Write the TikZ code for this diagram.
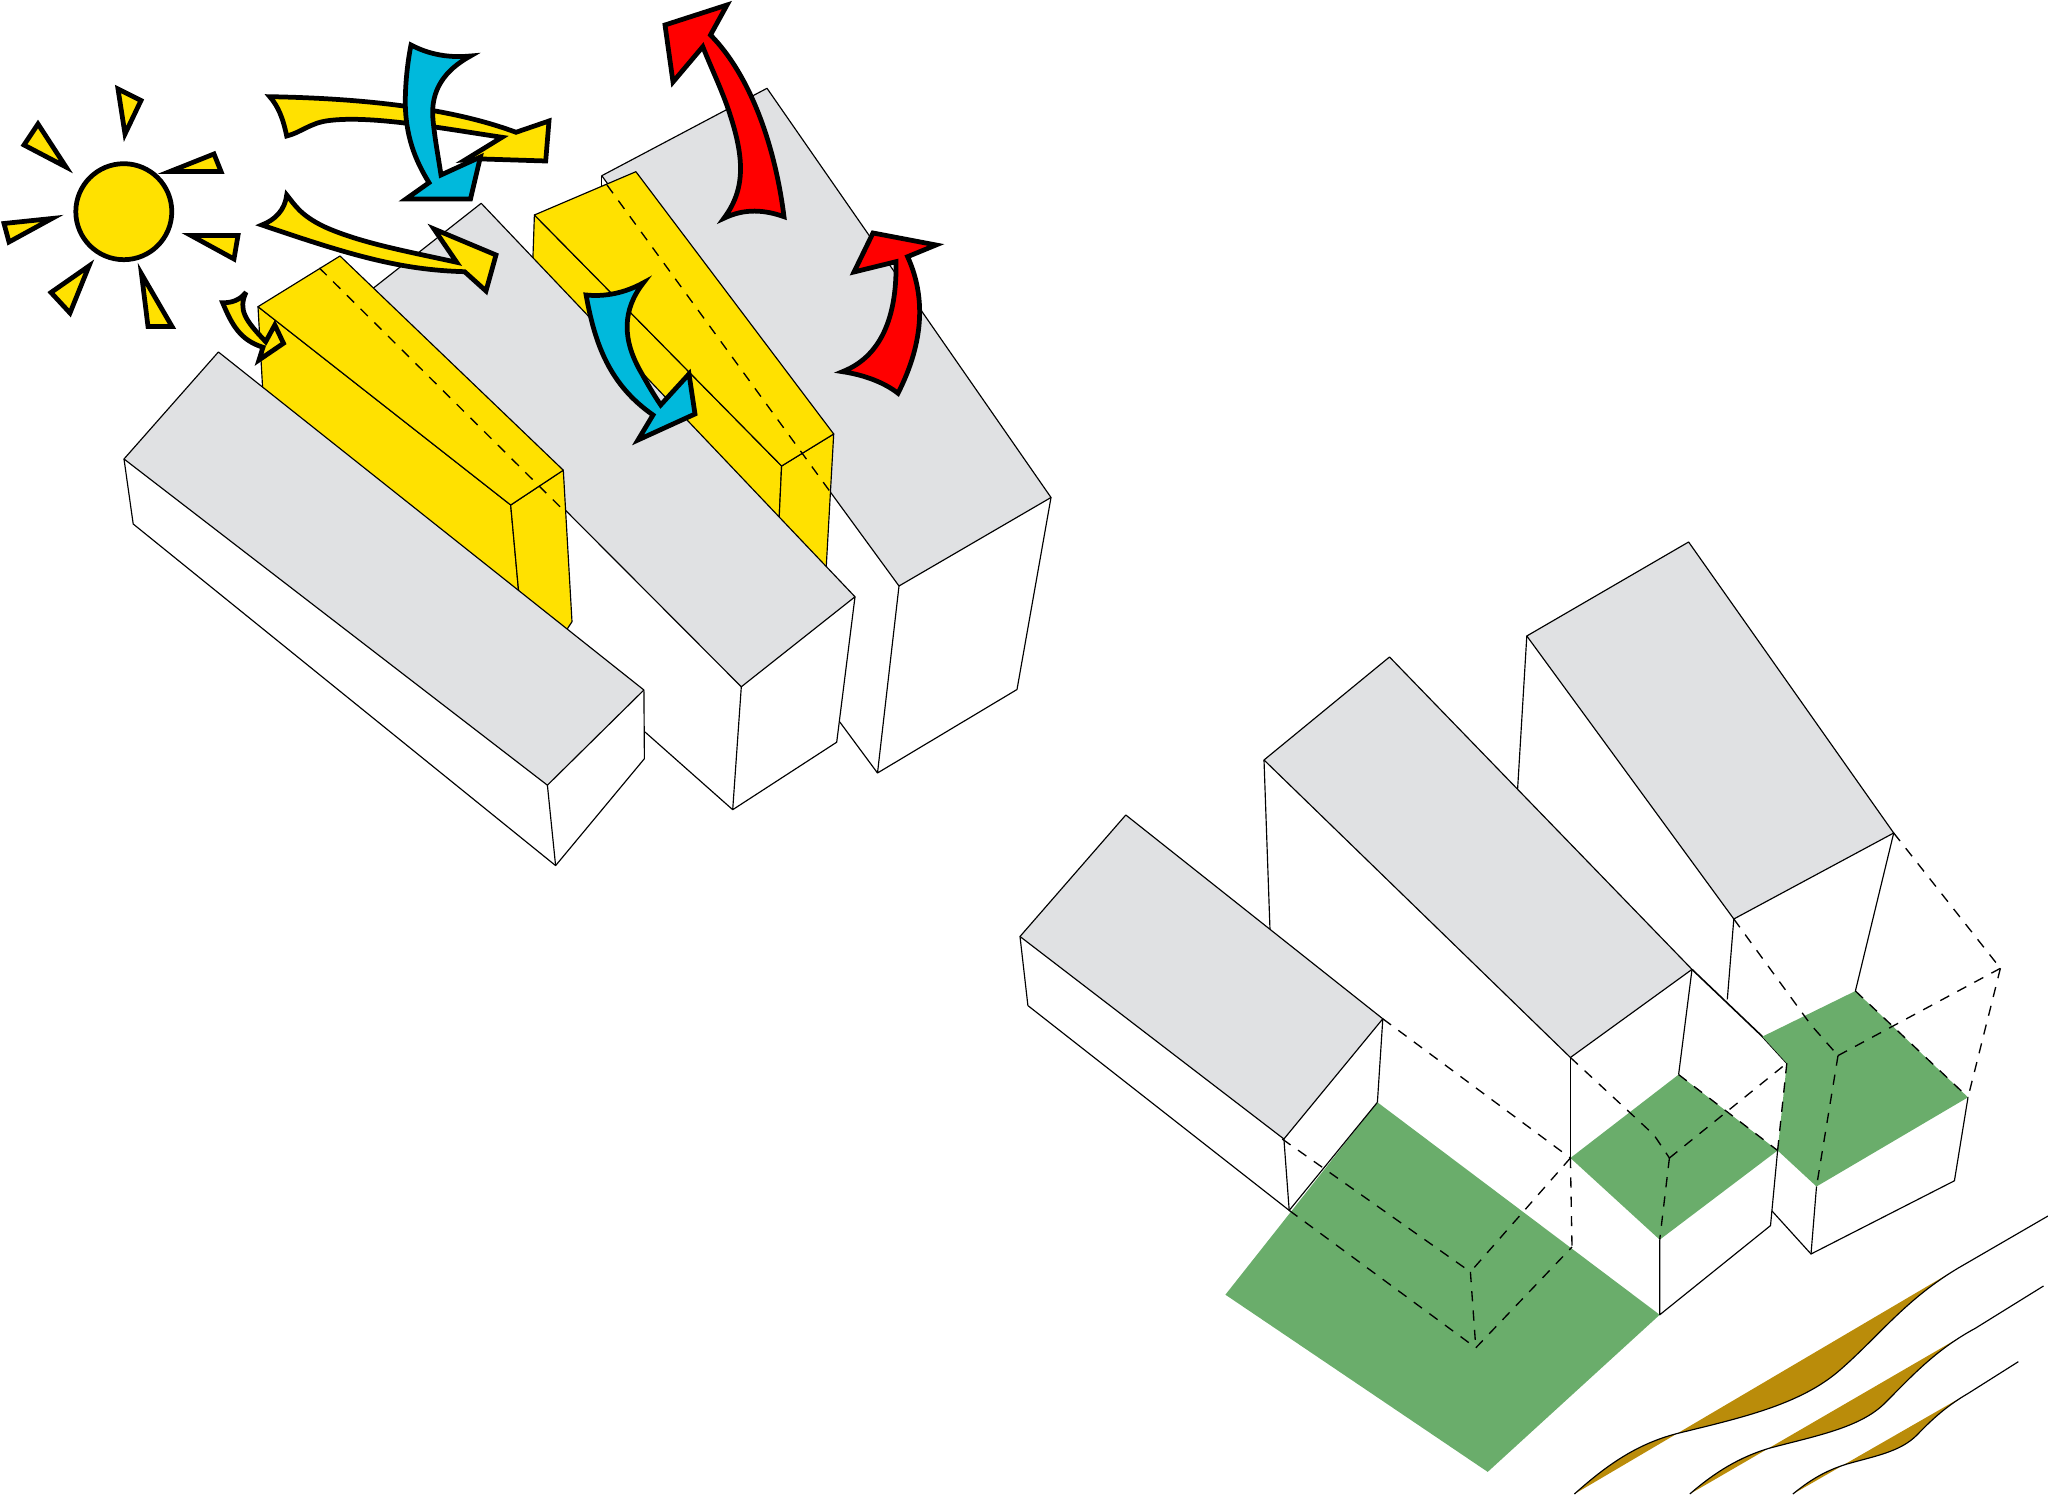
\documentclass[tikz,border=0pt]{standalone}
\definecolor{sunY}{HTML}{FFE100}
\definecolor{roofG}{HTML}{E0E1E3}
\definecolor{coolB}{HTML}{00B9DC}
\definecolor{hotR}{HTML}{FF0000}
\definecolor{lawnG}{HTML}{6AAD6B}
\definecolor{soilB}{HTML}{BA8C0A}
\tikzset{
  thinln/.style={draw=black,line width=0.33pt,line join=round},
  roof/.style={thinln,fill=roofG},
  solar/.style={thinln,fill=sunY},
  hidden/.style={draw=black,line width=0.38pt,dash pattern=on 2.9pt off 2.6pt},
  lawn/.style={fill=lawnG},
  flow/.style={draw=black,line width=1.35pt,line join=miter,miter limit=6}
}
\begin{document}
\begin{tikzpicture}[x=0.01cm,y=-0.01cm]
\useasboundingbox (0,0) rectangle (2048,1495);
% ---------- LEFT GROUP ----------
% building C
\draw[thinln] (839.8,722) -- (877.5,773);
\draw[thinln] (899,586) -- (877.5,773) -- (1017,689.5) -- (1051,497.5);
\path[roof] (767,88.3) -- (1051,497.5) -- (899,586) -- (829.6,491) -- (601.8,175.7) -- cycle;
% yellow B
\path[solar] (534.4,215) -- (781.6,466) -- (778.6,530) -- (532.5,270) -- cycle;
\path[solar] (781.6,466) -- (833.7,434) -- (825.5,580) -- (778.6,530) -- cycle;
\path[solar] (534.4,215) -- (635.9,171.7) -- (833.7,434) -- (781.6,466) -- cycle;
\draw[thinln] (601.8,175.7) -- (601.8,186);
\draw[hidden] (607,185) -- (829.6,491);
% building B
\fill[white] (565.8,511) -- (741.3,686.8) -- (855,596.8) -- (836.7,742.2) -- (732.7,809.7) -- (600,690) -- cycle;
\draw[thinln] (741.3,686.8) -- (732.7,809.7) -- (836.7,742.2) -- (855,596.8);
\draw[thinln] (645,732) -- (732.7,809.7);
\path[roof] (481.2,203.3) -- (855,596.8) -- (741.3,686.8) -- (357,301) -- cycle;
% yellow A
\path[solar] (258,306.7) -- (510.7,505) -- (519.4,600) -- (263.3,400) -- cycle;
\path[solar] (510.7,505) -- (563.3,470.2) -- (572,621.7) -- (560,640) -- (519.4,600) -- cycle;
\path[solar] (258,306.7) -- (340,256) -- (563.3,470.2) -- (510.7,505) -- cycle;
\draw[hidden] (319.4,268) -- (564.3,511);
% building A
\fill[white] (124,459) -- (547.4,785.2) -- (643.9,690) -- (644.4,758.7) -- (555.6,865.6) -- (133.2,524) -- cycle;
\draw[thinln] (124,459) -- (133.2,524) -- (555.6,865.6) -- (644.4,758.7) -- (643.9,690);
\draw[thinln] (547.4,785.2) -- (555.6,865.6);
\path[roof] (218.4,352) -- (643.9,690) -- (547.4,785.2) -- (124,459) -- cycle;
% sun
\filldraw[flow,fill=sunY] (123.8,211.7) circle [radius=48];
\filldraw[flow,fill=sunY] (118,89) -- (141,100.5) -- (125,134) -- cycle;
\filldraw[flow,fill=sunY] (38,124) -- (66,167) -- (24,145) -- cycle;
\filldraw[flow,fill=sunY] (214,154) -- (221,171.5) -- (170,171.5) -- cycle;
\filldraw[flow,fill=sunY] (4,223.5) -- (52,218.5) -- (9,242) -- cycle;
\filldraw[flow,fill=sunY] (191,235.5) -- (238,235.5) -- (234,259) -- cycle;
\filldraw[flow,fill=sunY] (89,266) -- (70,313) -- (51,292.5) -- cycle;
\filldraw[flow,fill=sunY] (141.5,274) -- (172,326.5) -- (148,326.5) -- cycle;
% yellow arrow 1
\filldraw[flow,fill=sunY]
  (269.7,96.7) .. controls (340,98) and (440,104) .. (516,132.3)
  -- (549,121) -- (545.7,161) -- (482.4,159) -- (465,160) -- (502,137.3)
  .. controls (440,128) and (370,115) .. (328,120.7)
  .. controls (310,123) and (300,133) .. (286.7,136)
  .. controls (283,118) and (278,106) .. (269.7,96.7) -- cycle;
% blue arrow 1
\filldraw[flow,fill=coolB]
  (411,45) .. controls (430,55) and (450,58) .. (470.5,56)
  .. controls (445,70) and (430,90) .. (433,120)
  .. controls (435,140) and (438,155) .. (441,175)
  -- (480.4,157) -- (470.5,199) -- (406,199) -- (429,182.7)
  .. controls (415,160) and (405,135) .. (405.3,100)
  .. controls (405.5,80) and (408,60) .. (411,45) -- cycle;
% yellow arrow 2
\filldraw[flow,fill=sunY]
  (286.7,195) .. controls (295,205) and (300,215) .. (324.2,226.7)
  .. controls (360,243) and (410,252) .. (456.7,262.3)
  -- (434,229) -- (496,255) -- (486,291) -- (464.6,271.7)
  .. controls (400,270) and (350,255) .. (261.8,225)
  .. controls (275,220) and (285,210) .. (286.7,195) -- cycle;
% small yellow arrow
\filldraw[flow,fill=sunY]
  (246,292.3) .. controls (238,310) and (245,320) .. (265.7,341.7)
  -- (274.8,325) -- (283.5,343.3) -- (259,360) -- (263,347.3)
  .. controls (240,340) and (232,325) .. (222.6,302.7)
  .. controls (232,303) and (240,300) .. (246,292.3) -- cycle;
% red arrow 1
\filldraw[flow,fill=hotR]
  (727,5) -- (710.5,35)
  .. controls (750,75) and (775,145) .. (784,216.7)
  .. controls (765,210) and (745,208) .. (723.9,218.3)
  .. controls (745,190) and (745,160) .. (729.6,113.3)
  .. controls (722,90) and (712,70) .. (702.8,46.7)
  -- (673,82) -- (665,25) -- cycle;
% red arrow 2
\filldraw[flow,fill=hotR]
  (936,245) -- (907.6,256.7)
  .. controls (925,295) and (925,340) .. (898,393.3)
  .. controls (885,383) and (865,375) .. (842.5,371.7)
  .. controls (885,355) and (897,310) .. (896,261.7)
  -- (854,272) -- (873,233) -- cycle;
% blue arrow 2
\filldraw[flow,fill=coolB]
  (586.1,295) .. controls (605,297) and (625,293) .. (643.5,282.7)
  .. controls (622,310) and (622,340) .. (641.6,373.3)
  .. controls (648,385) and (654,395) .. (660.7,405)
  -- (689,374) -- (695,414) -- (638,440) -- (653,415)
  .. controls (610,385) and (595,345) .. (586.1,295) -- cycle;
% ---------- RIGHT GROUP ----------
% building F
\path[roof] (1688.6,542) -- (1893.7,833) -- (1733.8,919) -- (1526.8,636) -- cycle;
\draw[thinln] (1526.8,636) -- (1517.6,789);
\draw[thinln] (1733.8,919) -- (1727.3,999.4);
\draw[thinln] (1893.7,833) -- (1855.4,991);
% building E
\fill[white] (1264,760) -- (1570.4,1057.5) -- (1692,969.4) -- (1678.6,1074.6) -- (1570.4,1158) -- (1659.7,1314.8) -- (1377.4,1102.3) -- (1382.8,1018.8) -- (1270,930) -- cycle;
\path[roof] (1389.5,657) -- (1692,969.4) -- (1570.4,1057.5) -- (1264,760) -- cycle;
\draw[thinln] (1264,760) -- (1270,930);
\draw[thinln] (1570.4,1057.5) -- (1570.4,1158);
\draw[thinln] (1692,969.4) -- (1678.6,1074.6);
\draw[thinln,line width=0.45pt] (1692,969.4) -- (1762.4,1036.6) -- (1786.8,1063.2);
% building D
\fill[white] (1020,936.5) -- (1283.9,1139) -- (1382.8,1018.8) -- (1377.4,1102.3) -- (1289.2,1210.4) -- (1027.9,1005.6) -- cycle;
\draw[thinln] (1020,936.5) -- (1027.9,1005.6) -- (1289.2,1210.4);
\draw[thinln] (1377.4,1102.3) -- (1382.8,1018.8);
\draw[thinln] (1283.9,1139) -- (1289.2,1210.4);
\path[roof] (1125.8,815) -- (1382.8,1018.8) -- (1283.9,1139) -- (1020,936.5) -- cycle;
% lawns
\fill[lawn] (1377.4,1102.3) -- (1225.4,1294.7) -- (1487.7,1471.9) -- (1659.7,1314.8) -- cycle;
\fill[lawn] (1678.6,1074.6) -- (1777.6,1150.5) -- (1659.7,1239.7) -- (1570.4,1158) -- cycle;
\fill[lawn] (1855.4,991) -- (1968,1097.3) -- (1816.5,1186.5) -- (1777.6,1150.5) -- (1786.8,1063.2) -- (1762.4,1036.6) -- cycle;
% lower walls
\draw[thinln] (1659.7,1239.7) -- (1659.7,1314.8) -- (1770.5,1225.6) -- (1777.6,1150.5);
\draw[thinln] (1816.5,1186.5) -- (1811,1254) -- (1954.4,1180.8) -- (1968,1097.3);
\draw[thinln] (1772,1211) -- (1811,1254);
\draw[thinln] (1377.4,1102.3) -- (1289.2,1210.4);
% hidden edges
\draw[hidden] (1786.8,1063.2) -- (1777.6,1150.5);
\draw[hidden] (1382.8,1018.8) -- (1570.4,1158);
\draw[hidden] (1570.4,1158) -- (1470.4,1271.9);
\draw[hidden] (1282.2,1139) -- (1470.4,1271.9);
\draw[hidden] (1470.4,1271.9) -- (1475.8,1347.8);
\draw[hidden] (1289.2,1210.4) -- (1475.8,1347.8);
\draw[hidden] (1475.8,1347.8) -- (1572,1247);
\draw[hidden] (1570.4,1158) -- (1572,1247);
\draw[hidden] (1570.4,1057.5) -- (1654,1135) -- (1669.4,1158);
\draw[hidden] (1669.4,1158) -- (1659.7,1239.7);
\draw[hidden] (1669.4,1158) -- (1786.8,1063.2);
\draw[hidden] (1678.6,1074.6) -- (1777.6,1150.5);
\draw[hidden] (1733.8,919) -- (1811,1025) -- (1838,1055.6);
\draw[hidden] (1838,1055.6) -- (1816.5,1186.5);
\draw[hidden] (1838,1055.6) -- (2000.4,968.3);
\draw[hidden] (2000.4,968.3) -- (1968,1097.3);
\draw[hidden] (1893.7,833) -- (2000.4,968.3);
\draw[hidden] (1855.4,991) -- (1968,1097.3);
% soil strips
\fill[soilB] (1957.8,1268.3) -- (1574.4,1494) .. controls (1610,1462) and (1640,1443) .. (1678,1433.3)
  .. controls (1740,1418) and (1800,1405) .. (1840,1370)
  .. controls (1880,1335) and (1905,1300) .. (1957.8,1268.3) -- cycle;
\draw[thinln] (1574.4,1494) .. controls (1610,1462) and (1640,1443) .. (1678,1433.3)
  .. controls (1740,1418) and (1800,1405) .. (1840,1370)
  .. controls (1880,1335) and (1905,1300) .. (1957.8,1268.3) -- (2048,1216);
\fill[soilB] (1975.3,1328.3) -- (1689.8,1494) .. controls (1715,1472) and (1740,1457) .. (1769,1448.3)
  .. controls (1815,1436) and (1860,1428) .. (1885,1403)
  .. controls (1910,1378) and (1935,1350) .. (1975.3,1328.3) -- cycle;
\draw[thinln] (1689.8,1494) .. controls (1715,1472) and (1740,1457) .. (1769,1448.3)
  .. controls (1815,1436) and (1860,1428) .. (1885,1403)
  .. controls (1910,1378) and (1935,1350) .. (1975.3,1328.3) -- (2043.5,1286);
\fill[soilB] (1968.3,1393.3) -- (1792.9,1494) .. controls (1810,1480) and (1825,1471) .. (1846,1464.3)
  .. controls (1875,1456) and (1900,1452) .. (1917,1435)
  .. controls (1935,1416) and (1950,1404) .. (1968.3,1393.3) -- cycle;
\draw[thinln] (1792.9,1494) .. controls (1810,1480) and (1825,1471) .. (1846,1464.3)
  .. controls (1875,1456) and (1900,1452) .. (1917,1435)
  .. controls (1935,1416) and (1950,1404) .. (1968.3,1393.3) -- (2018.3,1361.7);
\end{tikzpicture}
\end{document}
